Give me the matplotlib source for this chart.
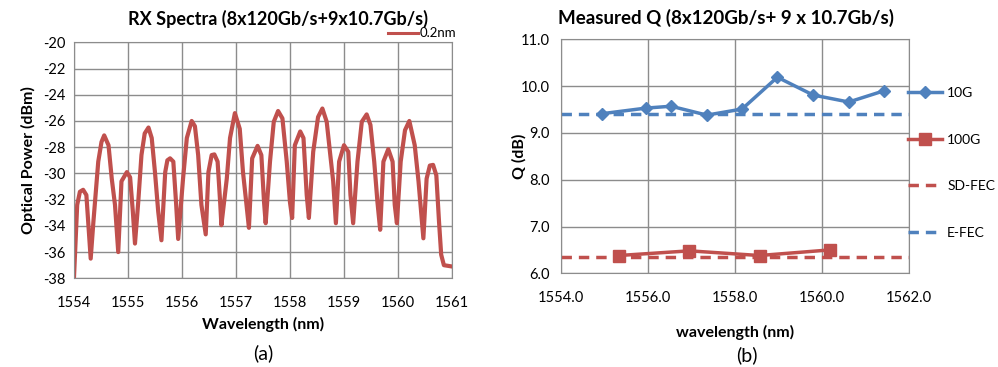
import numpy as np
import matplotlib
matplotlib.use("Agg")
import matplotlib.pyplot as plt

plt.rcParams['font.family'] = ['Lato', 'DejaVu Sans']
plt.rcParams['axes.unicode_minus'] = False

# (a) RX spectrum
wl = [1554.00, 1554.06, 1554.11, 1554.17, 1554.23, 1554.31,
      1554.36, 1554.45, 1554.51, 1554.56, 1554.64, 1554.70, 1554.76, 1554.82,
      1554.88, 1554.98, 1555.04, 1555.09, 1555.13,
      1555.19, 1555.25, 1555.31, 1555.38, 1555.44, 1555.50, 1555.56, 1555.62,
      1555.69, 1555.73, 1555.78, 1555.84, 1555.89, 1555.93,
      1556.02, 1556.09, 1556.18, 1556.24, 1556.30, 1556.36, 1556.44,
      1556.49, 1556.55, 1556.60, 1556.66, 1556.71, 1556.73,
      1556.83, 1556.89, 1556.98, 1557.07, 1557.13, 1557.19, 1557.24,
      1557.30, 1557.40, 1557.47, 1557.52, 1557.55,
      1557.63, 1557.70, 1557.78, 1557.86, 1557.94, 1558.00, 1558.04,
      1558.09, 1558.19, 1558.25, 1558.31, 1558.35,
      1558.43, 1558.52, 1558.60, 1558.68, 1558.74, 1558.80, 1558.85,
      1558.91, 1559.00, 1559.08, 1559.12, 1559.17,
      1559.25, 1559.33, 1559.42, 1559.49, 1559.56, 1559.62, 1559.67,
      1559.73, 1559.82, 1559.90, 1559.94, 1559.98,
      1560.05, 1560.13, 1560.21, 1560.31, 1560.38, 1560.47,
      1560.53, 1560.59, 1560.65, 1560.71, 1560.76, 1560.80, 1560.85, 1561.00]
pw = [-38.0, -32.4, -31.4, -31.25, -31.65, -36.5,
      -33.7, -29.1, -27.6, -27.1, -27.85, -30.4, -32.4, -36.0,
      -30.6, -29.9, -30.3, -32.9, -35.35,
      -32.2, -28.6, -26.95, -26.5, -27.3, -29.9, -32.9, -35.1,
      -29.9, -29.0, -28.85, -29.1, -32.2, -35.0,
      -30.4, -27.3, -26.0, -26.4, -28.6, -32.4, -34.65,
      -29.9, -28.6, -28.55, -29.1, -32.4, -33.95,
      -30.4, -27.3, -25.4, -26.6, -29.9, -32.2, -34.15,
      -28.85, -27.9, -28.6, -32.2, -33.8,
      -29.1, -26.06, -25.24, -25.8, -29.1, -32.2, -33.4,
      -27.85, -26.8, -27.3, -31.65, -33.4,
      -28.35, -25.7, -25.05, -26.06, -28.35, -30.6, -33.8,
      -29.1, -27.85, -28.35, -31.65, -33.8,
      -29.1, -26.06, -25.5, -26.3, -29.1, -32.2, -34.3,
      -29.1, -28.15, -29.1, -32.4, -33.8,
      -29.1, -26.7, -26.0, -27.85, -30.6, -34.95,
      -30.4, -29.4, -29.35, -30.15, -33.7, -36.2, -37.0, -37.1]

# (b) measured Q
wl_10g = [1554.94, 1555.95, 1556.53, 1557.35, 1558.16, 1558.97, 1559.79, 1560.61, 1561.42]
q_10g = [9.41, 9.53, 9.57, 9.38, 9.51, 10.19, 9.81, 9.66, 9.90]
wl_100g = [1555.33, 1556.95, 1558.56, 1560.18]
q_100g = [6.38, 6.48, 6.38, 6.50]
sd_fec = 6.34
e_fec = 9.41

red = "#C0504D"
blue = "#4F81BD"
grid_c = "#8C8C8C"

fig = plt.figure(figsize=(9.98, 3.67), dpi=100)

# ---- (a)
ax1 = fig.add_axes([0.0741, 0.2417, 0.3788, 0.643])
ax1.plot(wl, pw, color=red, lw=3.0, solid_joinstyle="round", label="0.2nm")
ax1.set_xlim(1554, 1561)
ax1.set_ylim(-38, -20)
ax1.set_xticks(np.arange(1554, 1562, 1))
ax1.set_yticks(np.arange(-38, -19, 2))
ax1.grid(True, color=grid_c, lw=1)
ax1.set_axisbelow(True)
ax1.tick_params(length=0, labelsize=10.5, pad=6)
ax1.tick_params(axis="x", pad=13)
for s in ax1.spines.values():
    s.set_color(grid_c)
ax1.set_xlabel("Wavelength (nm)", fontsize=11.5, fontweight="bold", labelpad=5)
ax1.set_ylabel("Optical Power (dBm)", fontsize=11.5, fontweight="bold", labelpad=5)
leg1 = ax1.legend(loc="lower right", bbox_to_anchor=(1.03, 0.985), frameon=False,
                  fontsize=9.5, handlelength=2.3, handletextpad=0.15, borderpad=0)
leg1.get_lines()[0].set_linewidth(2.2)
fig.text(0.279, 0.948, "RX Spectra (8x120Gb/s+9x10.7Gb/s)", ha="center", va="center",
         fontsize=13, fontweight="bold")
fig.text(0.264, 0.038, "(a)", ha="center", va="center", fontsize=14)

# ---- (b)
ax2 = fig.add_axes([0.5621, 0.2553, 0.349, 0.6376])
ax2.plot(wl_10g, q_10g, color=blue, lw=2.5, marker="D", ms=6, label="10G")
ax2.plot(wl_100g, q_100g, color=red, lw=2.5, marker="s", ms=8, label="100G")
ax2.axhline(sd_fec, color=red, lw=2.5, ls=(0, (3, 2)), label="SD-FEC")
ax2.axhline(e_fec, color=blue, lw=2.5, ls=(0, (3, 2)), label="E-FEC")
ax2.set_xlim(1554, 1562)
ax2.set_ylim(6, 11)
ax2.set_xticks(np.arange(1554, 1563, 2))
ax2.set_xticklabels([f"{v:.1f}" for v in np.arange(1554, 1563, 2)])
ax2.set_yticks(np.arange(6, 11.5, 1))
ax2.set_yticklabels([f"{v:.1f}" for v in np.arange(6, 11.5, 1)])
ax2.grid(True, color=grid_c, lw=1)
ax2.set_axisbelow(True)
ax2.tick_params(length=0, labelsize=10.5, pad=8)
ax2.tick_params(axis="x", pad=13)
for s in ax2.spines.values():
    s.set_color(grid_c)
ax2.set_xlabel("wavelength (nm)", fontsize=11.5, fontweight="bold", labelpad=14)
ax2.set_ylabel("Q (dB)", fontsize=11.5, fontweight="bold", labelpad=-4)
ax2.legend(loc="upper left", bbox_to_anchor=(0.995, 0.797), frameon=False,
           fontsize=10, handlelength=2.5, handletextpad=0.35, labelspacing=2.5,
           borderpad=0, borderaxespad=0)
fig.text(0.727, 0.952, "Measured Q (8x120Gb/s+ 9 x 10.7Gb/s)", ha="center", va="center",
         fontsize=13.5, fontweight="bold")
fig.text(0.748, 0.032, "(b)", ha="center", va="center", fontsize=14)

fig.savefig("out.png", dpi=100)
